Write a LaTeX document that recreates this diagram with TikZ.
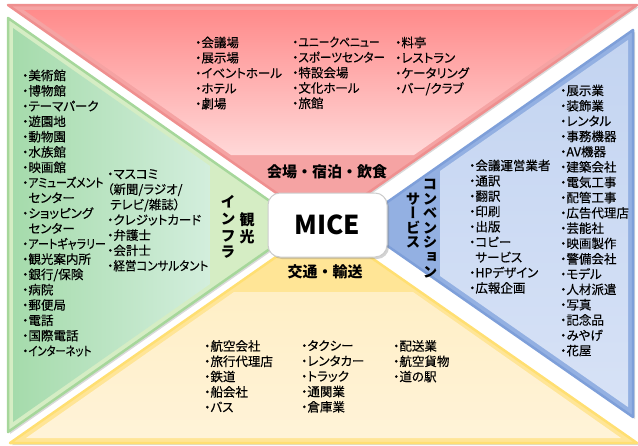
\documentclass[tikz,border=0pt]{standalone}
\usepackage{fontspec}
\usepackage{graphicx}
\setmainfont{Noto Sans CJK JP}
\newfontfamily\listfont[RawFeature=+palt, FakeBold=0.3]{Noto Sans CJK JP}
\newfontfamily\vertfont[RawFeature=+vert]{Noto Sans CJK JP}
\usetikzlibrary{shadows}

\newcommand{\squeeze}[2]{\scalebox{#1}[1]{#2}}

\definecolor{redband}{HTML}{F5A3A3}
\definecolor{rededge}{HTML}{EF8F8F}
\definecolor{redtop}{HTML}{FF8B8B}
\definecolor{redbot}{HTML}{FFD8D8}
\definecolor{greenband}{HTML}{D5EDC4}
\definecolor{greenedge}{HTML}{A6D79B}
\definecolor{greenin}{HTML}{A5DBAB}
\definecolor{greenout}{HTML}{D3EEDD}
\definecolor{blueband}{HTML}{93B0E2}
\definecolor{blueedge}{HTML}{7E9FD9}
\definecolor{bluetop}{HTML}{C3D4F1}
\definecolor{bluebot}{HTML}{D7E2F6}
\definecolor{yellowband}{HTML}{FFE596}
\definecolor{yellowedge}{HTML}{FFDF72}
\definecolor{yellowtop}{HTML}{FFEFC6}
\definecolor{yellowbot}{HTML}{FFF3D8}

\tikzset{
  piece/.style={line width=2.5pt, line join=round,
    drop shadow={opacity=0.3, shadow xshift=2pt, shadow yshift=-2pt}},
  item/.style={anchor=north west, inner sep=0pt, align=left,
    font=\listfont\fontsize{12.5}{15.3}\selectfont},
  bandlabel/.style={inner sep=0pt, font=\bfseries\fontsize{15}{16}\selectfont},
  vlabel/.style={inner sep=0pt, align=center,
    font=\vertfont\bfseries\fontsize{14.5}{14.6}\selectfont},
  mice/.style={draw=gray!40, line width=1pt, fill=white, rounded corners=12pt,
    minimum width=119pt, minimum height=64pt,
    font=\bfseries\fontsize{26}{28}\selectfont,
    drop shadow={opacity=0.35, shadow xshift=2pt, shadow yshift=-2pt}}
}

\begin{document}
\begin{tikzpicture}[x=1pt, y=-1pt]
      \useasboundingbox (0,0) rectangle (638,445);

      \filldraw[piece, fill=redband, draw=rededge] (8,5) -- (637,5) -- (322,225) -- cycle;
      \shade[top color=redtop, bottom color=redbot] (24,10) -- (621,10) -- (414,155) -- (231,155) -- cycle;

      \filldraw[piece, fill=greenband, draw=greenedge] (8,18) -- (304,225) -- (8,432) -- cycle;
      \shade[left color=greenin, right color=greenout] (13,28) -- (210,166) -- (210,284) -- (13,422) -- cycle;

      \filldraw[piece, fill=blueband, draw=blueedge] (633,30) -- (633,417) -- (356,224) -- cycle;
      \shade[top color=bluetop, bottom color=bluebot] (440,171) -- (628,40) -- (628,407) -- (440,276) -- cycle;

      \filldraw[piece, fill=yellowband, draw=yellowedge] (10,443) -- (323,224) -- (637,443) -- cycle;
      \shade[top color=yellowtop, bottom color=yellowbot] (234,292) -- (413,292) -- (621,438) -- (26,438) -- cycle;

      \node[bandlabel] (venuelabel) at (327,172) {会場・宿泊・飲食};
      \node[bandlabel] (translabel) at (325,272) {交通・輸送};
      \node[vlabel, font=\vertfont\bfseries\fontsize{15}{16.7}\selectfont] (tourlabel) at (247,228) {観\\光};
      \node[vlabel, font=\vertfont\bfseries\fontsize{15}{16.7}\selectfont] (infralabel) at (228,227) {イ\\ン\\フ\\ラ};
      \node[vlabel] (convlabel) at (430,228.5) {コ\\ン\\ベ\\ン\\シ\\ョ\\ン};
      \node[vlabel] (servlabel) at (413,220.5) {サ\\ー\\ビ\\ス};

      \node[item] (venue1) at (195,36.5) {・会議場\\・展示場\\・イベントホール\\・ホテル\\・劇場};
      \node[item] (venue2) at (292,36.5) {・\squeeze{0.86}{ユニークベニュー}\\・\squeeze{0.93}{スポーツセンター}\\・特設会場\\・文化ホール\\・旅館};
      \node[item] (venue3) at (395,36.5) {・料亭\\・レストラン\\・ケータリング\\・バー/クラブ};

      \node[item] (tour1) at (22,69.5) {・美術館\\・博物館\\・テーマパーク\\・遊園地\\・動物園\\・水族館\\・映画館\\・\squeeze{0.86}{アミューズメント}\\\hphantom{・}センター\\・ショッピング\\\hphantom{・}センター\\・\squeeze{0.88}{アートギャラリー}\\・観光案内所\\・銀行/保険\\・病院\\・郵便局\\・電話\\・国際電話\\・\squeeze{0.82}{インターネット}};
      \node[item] (tour2) at (107,169) {・マスコミ\\（新聞/ラジオ/\\\hspace*{3pt}テレビ/雑誌）\\・クレジットカード\\・弁護士\\・会計士\\・\squeeze{0.92}{経営コンサルタント}};

      \node[item] (conv1) at (469,159.5) {・会議運営業者\\・通訳\\・翻訳\\・印刷\\・出版\\・コピー\\\hphantom{・}サービス\\・HPデザイン\\・広報企画};
      \node[item] (conv2) at (560,84.5) {・展示業\\・装飾業\\・レンタル\\・事務機器\\・AV機器\\・建築会社\\・電気工事\\・配管工事\\・広告代理店\\・芸能社\\・映画製作\\・警備会社\\・モデル\\・人材派遣\\・写真\\・記念品\\・みやげ\\・花屋};

      \node[item] (trans1) at (204,340) {・航空会社\\・旅行代理店\\・鉄道\\・船会社\\・バス};
      \node[item] (trans2) at (301,340) {・タクシー\\・レンタカー\\・トラック\\・通関業\\・倉庫業};
      \node[item] (trans3) at (393,340) {・配送業\\・航空貨物\\・道の駅};

      \node[mice] (mice) at (327.5,225) {MICE};
    \end{tikzpicture}
\end{document}
